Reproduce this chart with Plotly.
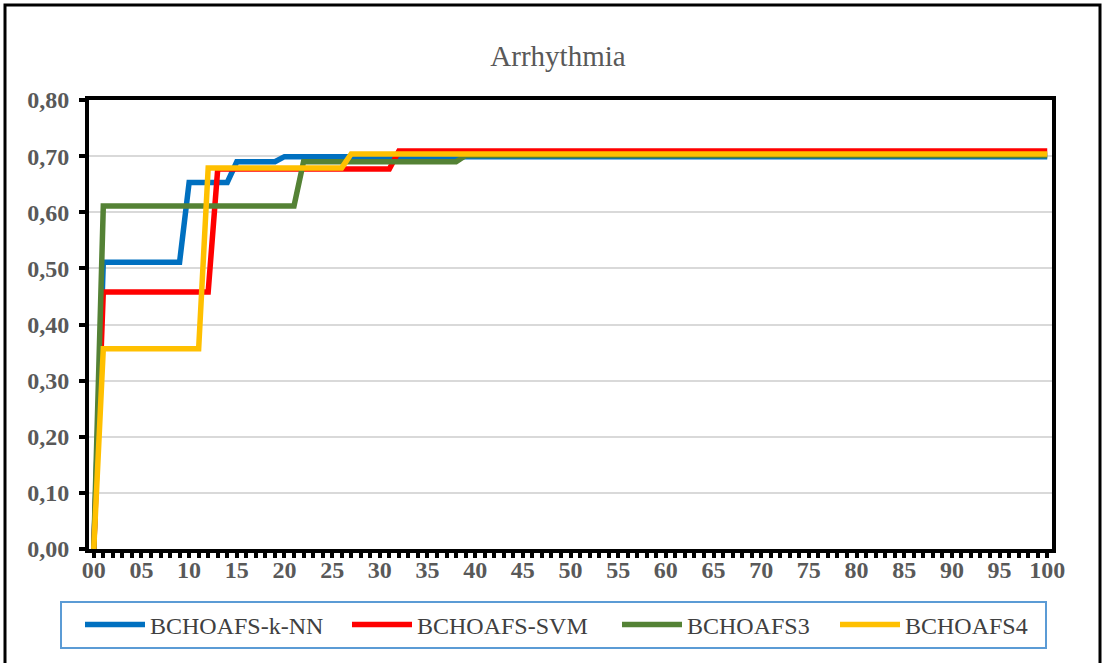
import plotly.graph_objects as go

# Iteration index (0..100) and best fitness per feature-selection variant
iterations = list(range(101))

knn = [
    0.000, 0.511, 0.511, 0.511, 0.511, 0.511, 0.511, 0.511, 0.511, 0.511,
    0.653, 0.653, 0.653, 0.653, 0.653, 0.690, 0.690, 0.690, 0.690, 0.690,
    0.699, 0.699, 0.699, 0.699, 0.699, 0.699, 0.699, 0.699, 0.699, 0.699,
    0.699, 0.699, 0.699, 0.699, 0.699, 0.699, 0.699, 0.699, 0.699, 0.699,
    0.699, 0.699, 0.699, 0.699, 0.699, 0.699, 0.699, 0.699, 0.699, 0.699,
    0.699, 0.699, 0.699, 0.699, 0.699, 0.699, 0.699, 0.699, 0.699, 0.699,
    0.699, 0.699, 0.699, 0.699, 0.699, 0.699, 0.699, 0.699, 0.699, 0.699,
    0.699, 0.699, 0.699, 0.699, 0.699, 0.699, 0.699, 0.699, 0.699, 0.699,
    0.699, 0.699, 0.699, 0.699, 0.699, 0.699, 0.699, 0.699, 0.699, 0.699,
    0.699, 0.699, 0.699, 0.699, 0.699, 0.699, 0.699, 0.699, 0.699, 0.699,
    0.699,
]

svm = [
    0.000, 0.458, 0.458, 0.458, 0.458, 0.458, 0.458, 0.458, 0.458, 0.458,
    0.458, 0.458, 0.458, 0.677, 0.677, 0.677, 0.677, 0.677, 0.677, 0.677,
    0.677, 0.677, 0.677, 0.677, 0.677, 0.677, 0.677, 0.677, 0.677, 0.677,
    0.677, 0.677, 0.709, 0.709, 0.709, 0.709, 0.709, 0.709, 0.709, 0.709,
    0.709, 0.709, 0.709, 0.709, 0.709, 0.709, 0.709, 0.709, 0.709, 0.709,
    0.709, 0.709, 0.709, 0.709, 0.709, 0.709, 0.709, 0.709, 0.709, 0.709,
    0.709, 0.709, 0.709, 0.709, 0.709, 0.709, 0.709, 0.709, 0.709, 0.709,
    0.709, 0.709, 0.709, 0.709, 0.709, 0.709, 0.709, 0.709, 0.709, 0.709,
    0.709, 0.709, 0.709, 0.709, 0.709, 0.709, 0.709, 0.709, 0.709, 0.709,
    0.709, 0.709, 0.709, 0.709, 0.709, 0.709, 0.709, 0.709, 0.709, 0.709,
    0.709,
]

fs3 = [
    0.000, 0.611, 0.611, 0.611, 0.611, 0.611, 0.611, 0.611, 0.611, 0.611,
    0.611, 0.611, 0.611, 0.611, 0.611, 0.611, 0.611, 0.611, 0.611, 0.611,
    0.611, 0.611, 0.690, 0.690, 0.690, 0.690, 0.690, 0.690, 0.690, 0.690,
    0.690, 0.690, 0.690, 0.690, 0.690, 0.690, 0.690, 0.690, 0.690, 0.701,
    0.701, 0.701, 0.701, 0.701, 0.701, 0.701, 0.701, 0.701, 0.701, 0.701,
    0.701, 0.701, 0.701, 0.701, 0.701, 0.701, 0.701, 0.701, 0.701, 0.701,
    0.701, 0.701, 0.701, 0.701, 0.701, 0.701, 0.701, 0.701, 0.701, 0.701,
    0.701, 0.701, 0.701, 0.701, 0.701, 0.701, 0.701, 0.701, 0.701, 0.701,
    0.701, 0.701, 0.701, 0.701, 0.701, 0.701, 0.701, 0.701, 0.701, 0.701,
    0.701, 0.701, 0.701, 0.701, 0.701, 0.701, 0.701, 0.701, 0.701, 0.701,
    0.701,
]

fs4 = [
    0.000, 0.357, 0.357, 0.357, 0.357, 0.357, 0.357, 0.357, 0.357, 0.357,
    0.357, 0.357, 0.679, 0.679, 0.679, 0.679, 0.679, 0.679, 0.679, 0.679,
    0.679, 0.679, 0.679, 0.679, 0.679, 0.679, 0.679, 0.704, 0.704, 0.704,
    0.704, 0.704, 0.704, 0.704, 0.704, 0.704, 0.704, 0.704, 0.704, 0.704,
    0.704, 0.704, 0.704, 0.704, 0.704, 0.704, 0.704, 0.704, 0.704, 0.704,
    0.704, 0.704, 0.704, 0.704, 0.704, 0.704, 0.704, 0.704, 0.704, 0.704,
    0.704, 0.704, 0.704, 0.704, 0.704, 0.704, 0.704, 0.704, 0.704, 0.704,
    0.704, 0.704, 0.704, 0.704, 0.704, 0.704, 0.704, 0.704, 0.704, 0.704,
    0.704, 0.704, 0.704, 0.704, 0.704, 0.704, 0.704, 0.704, 0.704, 0.704,
    0.704, 0.704, 0.704, 0.704, 0.704, 0.704, 0.704, 0.704, 0.704, 0.704,
    0.704,
]

series_names = ["BCHOAFS-k-NN", "BCHOAFS-SVM", "BCHOAFS3", "BCHOAFS4"]
series_colors = ["#0070C0", "#FF0000", "#548235", "#FFC000"]

x_tickvals = list(range(0, 101, 5))
x_ticktext = ["00", "05", "10", "15", "20", "25", "30", "35", "40", "45", "50",
              "55", "60", "65", "70", "75", "80", "85", "90", "95", "100"]
y_tickvals = [0.0, 0.1, 0.2, 0.3, 0.4, 0.5, 0.6, 0.7, 0.8]
y_ticktext = ["0,00", "0,10", "0,20", "0,30", "0,40", "0,50", "0,60", "0,70", "0,80"]

W, H = 1102, 663
L, R, T, B = 89, 50, 100, 114
pw, ph = W - L - R, H - T - B

SERIF = "Liberation Serif"
GREY = "#595959"

def px_x(p):
    return (p - L) / pw

def px_y(p):
    return (H - B - p) / ph

# one single-entry legend per series, laid out in a row
legend_ids = ["legend", "legend2", "legend3", "legend4"]
legend_left = [80, 347, 617, 835]

fig = go.Figure()
for name, ys, col, lid in zip(series_names, [knn, svm, fs3, fs4], series_colors, legend_ids):
    fig.add_trace(go.Scatter(
        x=iterations, y=ys, name=name, mode="lines",
        line=dict(color=col, width=5.5), legend=lid,
    ))

legend_style = dict(orientation="h", xanchor="left", y=px_y(625), yanchor="middle",
                    borderwidth=0, itemwidth=60,
                    font=dict(family=SERIF, size=24, color="#404040"),
                    bgcolor="rgba(0,0,0,0)")
for lid, lx in zip(legend_ids, legend_left):
    fig.update_layout({lid: dict(x=px_x(lx), **legend_style)})

# outer chart frame
fig.add_shape(type="rect", xref="paper", yref="paper",
              x0=px_x(5), x1=px_x(1100), y0=px_y(680), y1=px_y(5),
              line=dict(color="black", width=3), layer="below")
# legend frame
fig.add_shape(type="rect", xref="paper", yref="paper",
              x0=px_x(61), x1=px_x(1046), y0=px_y(648), y1=px_y(602),
              line=dict(color="#5B9BD5", width=2), layer="below")

fig.update_layout(
    width=W, height=H,
    margin=dict(l=L, r=R, t=T, b=B, autoexpand=False),
    paper_bgcolor="white", plot_bgcolor="white",
    title=dict(text="Arrhythmia", x=(558 - L) / pw, xref="paper", xanchor="center",
               y=1 - 56 / H, yanchor="middle",
               font=dict(family=SERIF, size=29, color=GREY)),
    showlegend=True,
    xaxis=dict(range=[-0.5, 100.5], tickmode="array", tickvals=x_tickvals,
               ticktext=x_ticktext, showgrid=False, zeroline=False,
               showline=True, linecolor="black", linewidth=4, mirror=True,
               ticks="outside", ticklen=5, tickwidth=4, tickcolor="black",
               ticklabelstandoff=-9,
               minor=dict(dtick=1, tick0=0, ticks="outside", ticklen=5,
                          tickwidth=4, tickcolor="black"),
               tickfont=dict(family=SERIF, size=24, color=GREY, weight="bold")),
    yaxis=dict(range=[0, 0.8], tickmode="array", tickvals=y_tickvals,
               ticktext=y_ticktext, showgrid=True, gridcolor="#D9D9D9",
               gridwidth=2, zeroline=False,
               showline=True, linecolor="black", linewidth=4, mirror=True,
               ticks="outside", ticklen=6, tickwidth=4, tickcolor="black",
               ticklabelstandoff=5,
               tickfont=dict(family=SERIF, size=24, color=GREY, weight="bold")),
)

fig.write_html("out.html")
